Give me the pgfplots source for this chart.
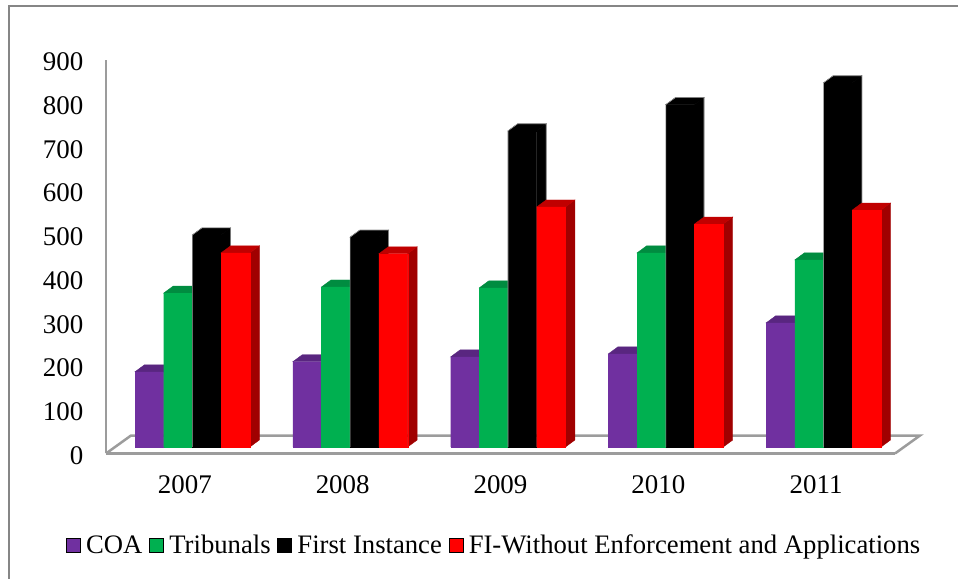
\documentclass[border=0pt]{standalone}
\usepackage{fontspec}
\setmainfont{Liberation Serif}
\usepackage{pgfplots}
\usepackage{pgfplotstable}
\pgfplotsset{compat=1.18}

\definecolor{coa}{HTML}{7030A0}
\definecolor{coaDark}{HTML}{592680}
\definecolor{trib}{HTML}{00B050}
\definecolor{tribDark}{HTML}{008C40}
\definecolor{firstInst}{HTML}{000000}
\definecolor{fi}{HTML}{FF0000}
\definecolor{fiSide}{HTML}{A00000}
\definecolor{fiTop}{HTML}{C00000}
\definecolor{frameGray}{HTML}{868686}
\definecolor{floorGray}{HTML}{9C9C9C}

% Yearly case counts per court level
\pgfplotstableread{
x  year COA Tribunals First FI
0  2007 172 352 485 444
1  2008 195 366 480 442
2  2009 206 364 723 549
3  2010 213 444 783 510
4  2011 284 428 833 542
}\courts

% One pixel of the page is 0.75pt
\newlength{\px}\setlength{\px}{0.75pt}

\pgfplotsset{
  front shift/.style={xshift=7.5\px, yshift=6.5\px},
}

% Corner positions of one bar, from its group, slot and value
\newcommand{\barcorners}[3]{%
  \pgfmathsetmacro{\xl}{#1+(#2)*0.1819-0.09095}%
  \pgfmathsetmacro{\xr}{\xl+0.1819}%
  \pgfmathsetmacro{\xlb}{\xl+0.0602}%
  \pgfmathsetmacro{\xrb}{\xr+0.0602}%
  \pgfmathsetmacro{\vb}{#3+16}%
}

% Side and top faces of the bars of one series
% (table column, slot, side colour, top colour)
\newcommand{\barfaces}[4]{%
  \pgfplotsinvokeforeach{0,...,4}{%
    \pgfplotstablegetelem{##1}{#1}\of{\courts}%
    \let\val\pgfplotsretval
    \barcorners{##1}{#2}{\val}%
    \edef\drawfaces{%
      \noexpand\addplot[forget plot, front shift, fill=#3, draw=#3, line width=0.3pt]
        coordinates {(\xr,0) (\xrb,16) (\xrb,\vb) (\xr,\val)} -- cycle;
      \noexpand\addplot[forget plot, front shift, fill=#4, draw=#4, line width=0.3pt]
        coordinates {(\xl,\val) (\xlb,\vb) (\xrb,\vb) (\xr,\val)} -- cycle;
    }%
    \drawfaces
  }%
}

% Thin outline around the silhouette of the bars of one series
\newcommand{\baroutline}[3]{%
  \pgfplotsinvokeforeach{0,...,4}{%
    \pgfplotstablegetelem{##1}{#1}\of{\courts}%
    \let\val\pgfplotsretval
    \barcorners{##1}{#2}{\val}%
    \edef\drawoutline{%
      \noexpand\addplot[forget plot, front shift, draw=#3, line width=0.4pt]
        coordinates {(\xl,0) (\xl,\val) (\xlb,\vb) (\xrb,\vb) (\xrb,16)};
    }%
    \drawoutline
  }%
}

% Front faces of the bars of one series
\newcommand{\barfront}[3]{%
  \addplot[forget plot, ybar, bar width=28.7\px, bar shift=#2*28.7\px,
           front shift, fill=#3, draw=#3, line width=0.1pt]
    table[x=x, y=#1] {\courts};
}

\begin{document}
\begin{tikzpicture}
  \path[use as bounding box] (0,0) rectangle (958\px,579\px);
  % Outer chart frame: only the top and left edges fall on the page
  \draw[frameGray, line width=1.5\px] (9\px,0) -- (9\px,573\px) -- (958\px,573\px);
  \begin{axis}[
    at={(106\px,125.5\px)}, anchor=south west,
    scale only axis, width=789\px, height=393.5\px,
    xmin=-0.5, xmax=4.5, ymin=0, ymax=900,
    clip=false,
    axis x line*=bottom, axis y line*=left,
    axis line style={floorGray, line width=2.5\px, -},
    major tick length=0pt,
    ytick={0,100,...,900},
    xtick={0,...,4},
    xticklabels={2007,2008,2009,2010,2011},
    tick label style={font=\fontsize{20.2}{23}\selectfont, text=black},
    /pgf/number format/assume math mode=true,
    yticklabel style={/pgf/number format/1000 sep={}, xshift=-18\px, yshift=-2\px},
    xticklabel style={yshift=-17\px},
    legend columns=-1,
    legend style={
      at={(-40\px,-95\px)}, anchor=west,
      draw=none, fill=none, inner sep=0pt, outer sep=0pt,
      font=\fontsize{20}{24}\selectfont,
      nodes={text height=1.5ex, text depth=0.5ex},
      /tikz/every even column/.style={column sep=4\px},
      /tikz/every odd column/.style={column sep=3\px},
    },
    legend cell align=left,
    legend image code/.code={\fill[#1] (0pt,-1.5pt) rectangle (10.5pt,9pt);},
  ]
    % Floor of the chart
    \addplot[forget plot, floorGray, line width=2.5\px]
      coordinates {(-0.5,0) (-0.342,41) (4.658,41) (4.5,0)};

    % Bars, back faces first, series from left to right
    \barfaces{COA}{-1.5}{coaDark}{coaDark}
    \barfront{COA}{-1.5}{coa}
    \barfaces{Tribunals}{-0.5}{tribDark}{tribDark}
    \barfront{Tribunals}{-0.5}{trib}
    \barfaces{First}{0.5}{firstInst}{firstInst}
    \barfront{First}{0.5}{firstInst}
    \baroutline{First}{0.5}{gray!70}
    \barfaces{FI}{1.5}{fiSide}{fiTop}
    \barfront{FI}{1.5}{fi}

    \addlegendimage{fill=coa}
    \addlegendentry{COA}
    \addlegendimage{fill=trib}
    \addlegendentry{Tribunals}
    \addlegendimage{fill=firstInst}
    \addlegendentry{First Instance}
    \addlegendimage{fill=fi}
    \addlegendentry{FI-Without Enforcement and Applications}
  \end{axis}
\end{tikzpicture}
\end{document}
